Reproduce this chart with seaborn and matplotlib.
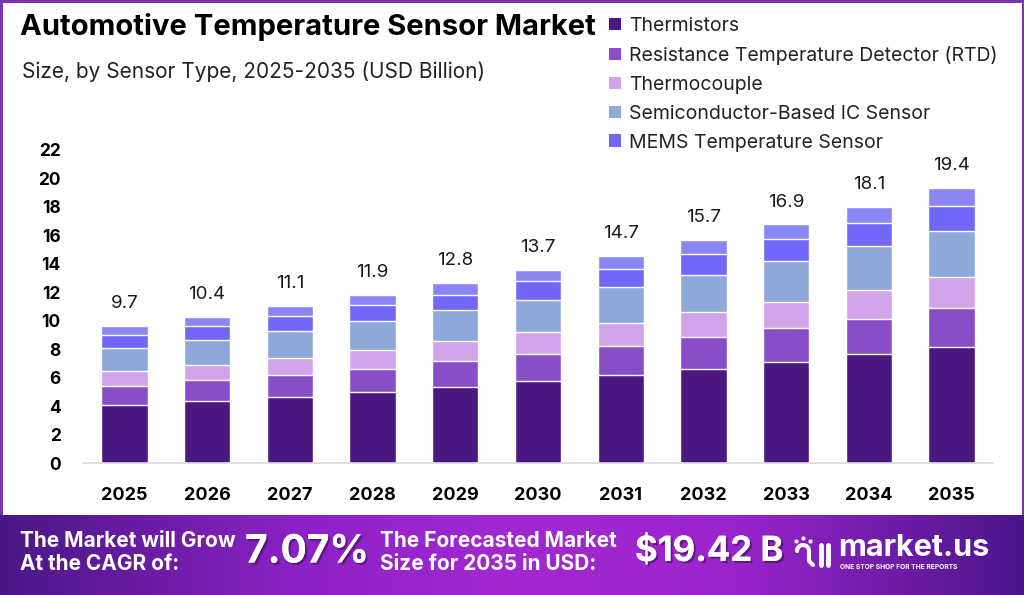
import numpy as np
import pandas as pd
import matplotlib
matplotlib.use("Agg")
import matplotlib.pyplot as plt
import seaborn as sns
from matplotlib.patches import Patch, Rectangle
from matplotlib.colors import LinearSegmentedColormap
import matplotlib.patheffects as pe

# --- dados ---
anos = ["2025", "2026", "2027", "2028", "2029", "2030", "2031", "2032", "2033", "2034", "2035"]
totais = [9.7, 10.4, 11.1, 11.9, 12.8, 13.7, 14.7, 15.7, 16.9, 18.1, 19.4]
thermistors = [4.06, 4.34, 4.64, 4.97, 5.32, 5.77, 6.19, 6.64, 7.13, 7.65, 8.18]
rtd = [1.33, 1.48, 1.57, 1.67, 1.86, 1.90, 2.04, 2.20, 2.37, 2.48, 2.73]
thermocouple = [1.08, 1.10, 1.18, 1.33, 1.38, 1.52, 1.62, 1.74, 1.80, 2.02, 2.13]
semiconductor = [1.64, 1.73, 1.92, 2.04, 2.18, 2.30, 2.49, 2.65, 2.87, 3.09, 3.28]
mems = [0.89, 0.99, 1.03, 1.08, 1.08, 1.27, 1.31, 1.43, 1.54, 1.60, 1.76]
outros = [0.61, 0.63, 0.71, 0.71, 0.84, 0.80, 0.91, 1.01, 1.06, 1.17, 1.24]

segmentos = ["Thermistors", "Resistance Temperature Detector (RTD)", "Thermocouple",
             "Semiconductor-Based IC Sensor", "MEMS Temperature Sensor", "Others"]
cores = ["#4b1780", "#8a4dc8", "#d2a5ea", "#8ea9d8", "#7167fa", "#8a85f7"]

df = pd.DataFrame({"Ano": anos, segmentos[0]: thermistors, segmentos[1]: rtd,
                   segmentos[2]: thermocouple, segmentos[3]: semiconductor,
                   segmentos[4]: mems, segmentos[5]: outros})
acumulado = df[segmentos].cumsum(axis=1)

sns.set_style("white")
plt.rcParams["font.family"] = ["Inter", "DejaVu Sans"]

W, H = 1024, 595
fig = plt.figure(figsize=(W / 100, H / 100), dpi=100)
fig.patch.set_facecolor("white")

# borda roxa
borda = "#7b35ad"
for (x0, y0, w, h) in [(0, 80, 2.5, 515), (0, 592.5, 1024, 2.5), (1021.5, 80, 2.5, 515)]:
    fig.add_artist(Rectangle((x0 / W, y0 / H), w / W, h / H, transform=fig.transFigure,
                             color=borda, lw=0, zorder=5))

# --- gráfico principal ---
ax = fig.add_axes([83 / W, (H - 463) / H, 910 / W, 313 / H])
for seg, cor in zip(reversed(segmentos), reversed(cores)):
    sns.barplot(x=df["Ano"], y=acumulado[seg], color=cor, width=0.56, saturation=1,
                ax=ax, zorder=2)

for i, (topo, rot) in enumerate(zip(acumulado[segmentos[-1]], totais)):
    ax.annotate(f"{rot}", xy=(i, topo), xytext=(0, 10), textcoords="offset points",
                ha="center", va="bottom", fontsize=13.5, color="#1a1a1a")

ax.set_ylim(0, 22)
ax.set_xlim(-0.5, 10.5)
ax.set_yticks(range(0, 23, 2))
ax.set_xlabel("")
ax.set_ylabel("")
ax.tick_params(axis="y", length=0, pad=16, labelsize=12.5)
ax.tick_params(axis="x", length=0, pad=17, labelsize=13)
for lb in ax.get_yticklabels() + ax.get_xticklabels():
    lb.set_fontweight("bold")
    lb.set_color("black")
for s in ["top", "right", "left"]:
    ax.spines[s].set_visible(False)
ax.spines["bottom"].set_color("#d9d9d9")
ax.spines["bottom"].set_linewidth(1.2)
ax.set_facecolor("none")

# títulos
fig.text(20 / W, 1 - 27 / H, "Automotive Temperature Sensor Market", fontsize=21,
         fontweight="bold", color="black", va="center", ha="left")
fig.text(22 / W, 1 - 72 / H, "Size, by Sensor Type, 2025-2035 (USD Billion)", fontsize=15,
         color="#222222", va="center", ha="left")

# legenda
handles = [Patch(facecolor=c, edgecolor="none") for c in cores[:5]]
fig.legend(handles, segmentos[:5], loc="upper left", bbox_to_anchor=(609 / W, 1 - 17 / H),
           frameon=False, fontsize=14, handlelength=0.62, handleheight=0.62,
           handletextpad=0.42, labelspacing=0.56, borderaxespad=0, borderpad=0,
           labelcolor="#222222")

# --- faixa inferior ---
bx = fig.add_axes([0, 0, 1, 80 / H])
cmap = LinearSegmentedColormap.from_list("faixa", [(0, "#4a1786"), (0.3, "#8e22c6"),
                                                   (0.5, "#a229d2"), (0.72, "#9a24cc"),
                                                   (1, "#4b168a")])
grad = np.linspace(0, 1, 512).reshape(1, -1)
bx.imshow(grad, cmap=cmap, aspect="auto", extent=[0, W, 0, 80])
bx.set_xlim(0, W)
bx.set_ylim(0, 80)
bx.axis("off")

sombra = [pe.withSimplePatchShadow(offset=(1.5, -1.5), shadow_rgbFace="#2a0a45", alpha=0.5), pe.Normal()]
bx.text(20, 54, "The Market will Grow", color="white", fontsize=15, fontweight="bold", va="center")
bx.text(20, 31, "At the CAGR of:", color="white", fontsize=15, fontweight="bold", va="center")
bx.text(245, 43, "7.07%", color="white", fontsize=28, fontweight="bold", va="center",
        path_effects=sombra)
bx.text(380, 54, "The Forecasted Market", color="white", fontsize=15, fontweight="bold", va="center")
bx.text(380, 31, "Size for 2035 in USD:", color="white", fontsize=15, fontweight="bold", va="center")
bx.text(635, 43, "$19.42 B", color="white", fontsize=25, fontweight="bold", va="center",
        path_effects=sombra)

# logo market.us (simplificado)
t = np.linspace(np.pi, 0, 30)
bx.plot(803 + 6 * np.cos(t), 44 + 6 * np.sin(t), color="white", lw=3, solid_capstyle="round")
bx.plot([809, 809, 813], [44, 34, 30], color="white", lw=3, solid_capstyle="round")
bx.plot([821, 821], [30, 50], color="white", lw=3.5, solid_capstyle="round")
bx.plot([828, 828], [30, 50], color="white", lw=3.5, solid_capstyle="round")
bx.scatter([796, 803, 810], [54, 57, 54], s=4, color="white", zorder=3)
bx.text(838, 47, "market.us", color="white", fontsize=22, fontweight="bold", va="center")
bx.text(840, 28, "ONE STOP SHOP FOR THE REPORTS", color="white", fontsize=4.8,
        fontweight="bold", va="center")

fig.savefig("out.png", dpi=100, facecolor="white")
